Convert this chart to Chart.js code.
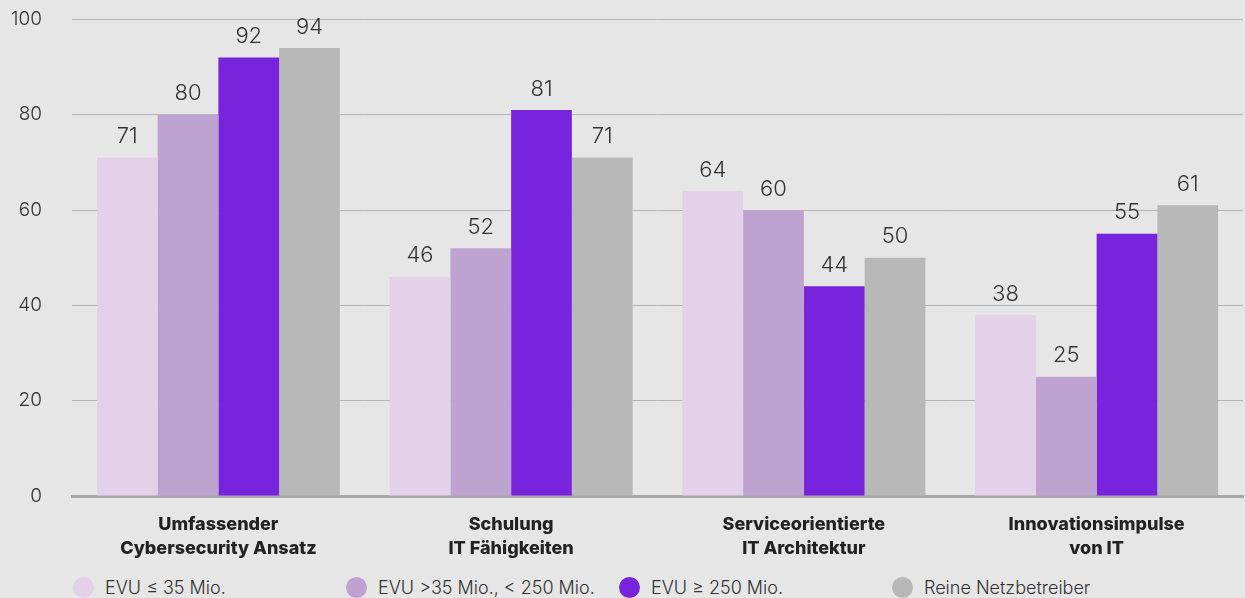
<!DOCTYPE html>
<html>
<head>
<meta charset="utf-8">
<script src="https://cdn.jsdelivr.net/npm/chart.js@4"></script>
<style>
  html, body { margin: 0; padding: 0; background: #e6e6e6; overflow: hidden; }
  #wrap { position: relative; width: 1245px; height: 598px; overflow: hidden; }
  #chart { position: absolute; left: 0; top: -22px; }
  #legend { position: absolute; left: 73px; top: 577px; display: flex; font-family: Inter, "Noto Sans", sans-serif; font-size: 18px; color: #333; font-weight: 300; }
  .item { display: flex; align-items: center; width: 273px; }
  .dot { width: 21px; height: 21px; border-radius: 50%; margin-right: 11px; }
</style>
</head>
<body>
<div id="wrap">
  <canvas id="chart" width="1245" height="590"></canvas>
  <div id="legend"></div>
</div>
<script>
// categories (two-line labels)
const categories = [
    ['Umfassender', 'Cybersecurity Ansatz'],
    ['Schulung', 'IT Fähigkeiten'],
    ['Serviceorientierte', 'IT Architektur'],
    ['Innovationsimpulse', 'von IT']
];
const seriesNames = ['EVU ≤ 35 Mio.', 'EVU >35 Mio., < 250 Mio.', 'EVU ≥ 250 Mio.', 'Reine Netzbetreiber'];
const seriesColors = ['#e3d1ea', '#bea3d0', '#7823dc', '#b8b8b8'];
const small = [71, 46, 64, 38];
const medium = [80, 52, 60, 25];
const large = [92, 81, 44, 55];
const netz = [94, 71, 50, 61];
const yTicks = [0, 20, 40, 60, 80, 100];

const font = 'Inter, "Noto Sans", sans-serif';

// draws value above each bar
const valueLabels = {
    id: 'valueLabels',
    afterDatasetsDraw(chart) {
        const ctx = chart.ctx;
        ctx.save();
        ctx.font = '300 22px ' + font;
        ctx.fillStyle = '#333';
        ctx.textAlign = 'center';
        ctx.textBaseline = 'bottom';
        chart.data.datasets.forEach((ds, i) => {
            chart.getDatasetMeta(i).data.forEach((bar, j) => {
                ctx.fillText(ds.data[j], bar.x, bar.y - 10);
            });
        });
        ctx.restore();
    }
};

const allSeries = [small, medium, large, netz];

new Chart(document.getElementById('chart'), {
    type: 'bar',
    data: {
        labels: categories,
        datasets: allSeries.map((d, i) => ({
            label: seriesNames[i],
            data: d,
            backgroundColor: seriesColors[i],
            categoryPercentage: 0.83,
            barPercentage: 1.0
        }))
    },
    options: {
        responsive: false,
        animation: false,
        layout: { padding: { top: 0, right: 2, left: 0, bottom: 0 } },
        plugins: { legend: { display: false }, tooltip: { enabled: false } },
        scales: {
            x: {
                grid: { display: false },
                border: { color: '#a8a8a8', width: 3 },
                ticks: { color: '#222', font: { family: font, size: 18, weight: 800, lineHeight: 1.33 }, padding: 9, maxRotation: 0 },
                afterFit(scale) { scale.height = 72; }
            },
            y: {
                min: 0, max: 100,
                afterBuildTicks(scale) { scale.ticks = yTicks.map(v => ({ value: v })); },
                grid: { color: '#b4b4b4', lineWidth: 1, drawTicks: false },
                border: { display: false },
                ticks: { color: '#333', font: { family: font, size: 19, weight: 300 }, padding: 30 },
                afterFit(scale) { scale.width = 72; }
            }
        }
    },
    plugins: [valueLabels]
});

const legend = document.getElementById('legend');
seriesNames.forEach((name, i) => {
    const item = document.createElement('div');
    item.className = 'item';
    item.innerHTML = '<span class="dot" style="background:' + seriesColors[i] + '"></span><span>' + name + '</span>';
    legend.appendChild(item);
});
</script>
</body>
</html>
